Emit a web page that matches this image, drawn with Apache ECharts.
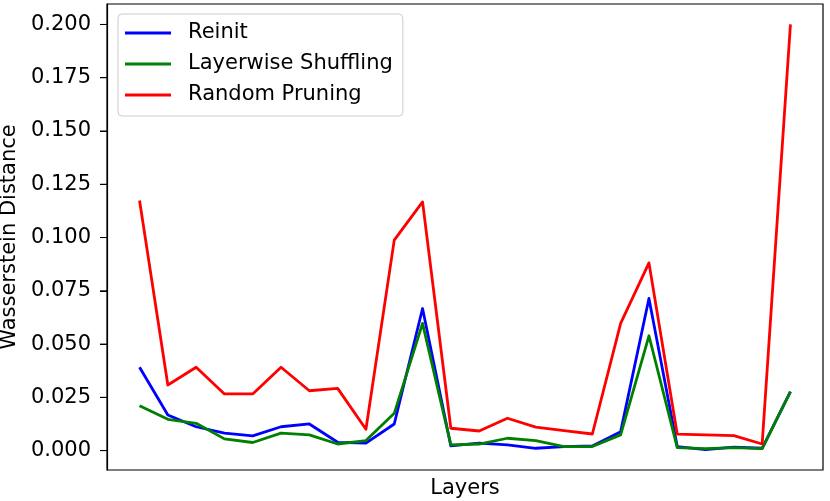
<!DOCTYPE html>
<html><head><meta charset="utf-8">
<script src="https://cdn.jsdelivr.net/npm/echarts@6/dist/echarts.min.js"></script>
<style>html,body{margin:0;padding:0;background:#fff}#c{width:830px;height:501px}</style>
</head><body><div id="c"></div>
<script>
var layers = [0,1,2,3,4,5,6,7,8,9,10,11,12,13,14,15,16,17,18,19,20,21,22,23];
var reinit = [0.0391,0.0167,0.0112,0.0082,0.0069,0.0112,0.0125,0.0039,0.0035,0.0125,0.0667,0.0022,0.0035,0.0027,0.0011,0.0019,0.0022,0.0089,0.0714,0.0019,0.0005,0.0016,0.0011,0.0277];
var shuffling = [0.0211,0.0147,0.0128,0.0055,0.0038,0.0082,0.0074,0.0031,0.0047,0.0175,0.0597,0.0027,0.0031,0.0058,0.0047,0.0019,0.0019,0.0074,0.0539,0.0014,0.0009,0.0014,0.0009,0.0277];
var pruning = [0.1174,0.0308,0.0391,0.0266,0.0266,0.0391,0.0281,0.0292,0.0100,0.0988,0.1167,0.0105,0.0092,0.0152,0.0110,0.0094,0.0078,0.0597,0.0881,0.0077,0.0074,0.0070,0.0031,0.2000];
var yTicks = [0,0.025,0.05,0.075,0.1,0.125,0.15,0.175,0.2];
var seriesNames = ['Reinit','Layerwise Shuffling','Random Pruning'];
var colors = ['#0000ff','#008000','#ff0000'];

var X_MIN = -1.15, X_MAX = 24.15;
function pairs(v){ return layers.map(function(x,i){ return [x, v[i]]; }); }
var font = 'DejaVu Sans';
var chart = echarts.init(document.getElementById('c'), null, {renderer:'canvas'});
chart.setOption({
  animation:false,
  backgroundColor:'#fff',
  textStyle:{fontFamily:font},
  grid:{left:107,right:7,top:4,bottom:31,containLabel:false,outerBoundsMode:'none',
    show:true,borderColor:'#000',borderWidth:1.2,backgroundColor:'transparent'},
  xAxis:{type:'value',min:X_MIN,max:X_MAX,
    axisLine:{show:false,onZero:false},axisTick:{show:false},axisLabel:{show:false},splitLine:{show:false},
    name:'Layers',nameLocation:'middle',nameGap:8,
    nameTextStyle:{fontFamily:font,fontSize:21,color:'#000',verticalAlign:'top'}},
  yAxis:{type:'value',min:-0.0091,max:0.2096,position:'left',
    axisLine:{show:true,onZero:false,lineStyle:{color:'#000',width:1.2}},splitLine:{show:false},
    axisTick:{show:true,length:7,customValues:yTicks,lineStyle:{color:'#000',width:1}},
    axisLabel:{show:true,customValues:yTicks,margin:0,fontFamily:font,fontSize:21,color:'#000',
      formatter:function(v){return v.toFixed(3)+'{g| }{tk| }';},
      rich:{g:{width:9,fontSize:21},tk:{width:7,height:1,lineHeight:1,fontSize:1,backgroundColor:'#000',verticalAlign:'middle'}}},
    name:'Wasserstein Distance',nameLocation:'middle',nameGap:84,
    nameTextStyle:{fontFamily:font,fontSize:21,color:'#000'}},
  legend:{show:true,orient:'vertical',left:118,top:14,
    data:seriesNames.map(function(n){return {name:n,icon:'rect'};}),
    itemWidth:46,itemHeight:3,itemGap:7,
    padding:[7,10,9,7],
    backgroundColor:'#fff',borderColor:'#cccccc',borderWidth:1,borderRadius:4,
    textStyle:{fontFamily:font,fontSize:21,color:'#000',lineHeight:24,padding:[0,0,0,12]}},
  series:seriesNames.map(function(n,i){
    return {name:n,type:'line',data:pairs([reinit,shuffling,pruning][i]),
      showSymbol:false,symbol:'none',color:colors[i],
      lineStyle:{width:2.8,color:colors[i],join:'round'},z:2+i};
  })
});
</script>
</body></html>
